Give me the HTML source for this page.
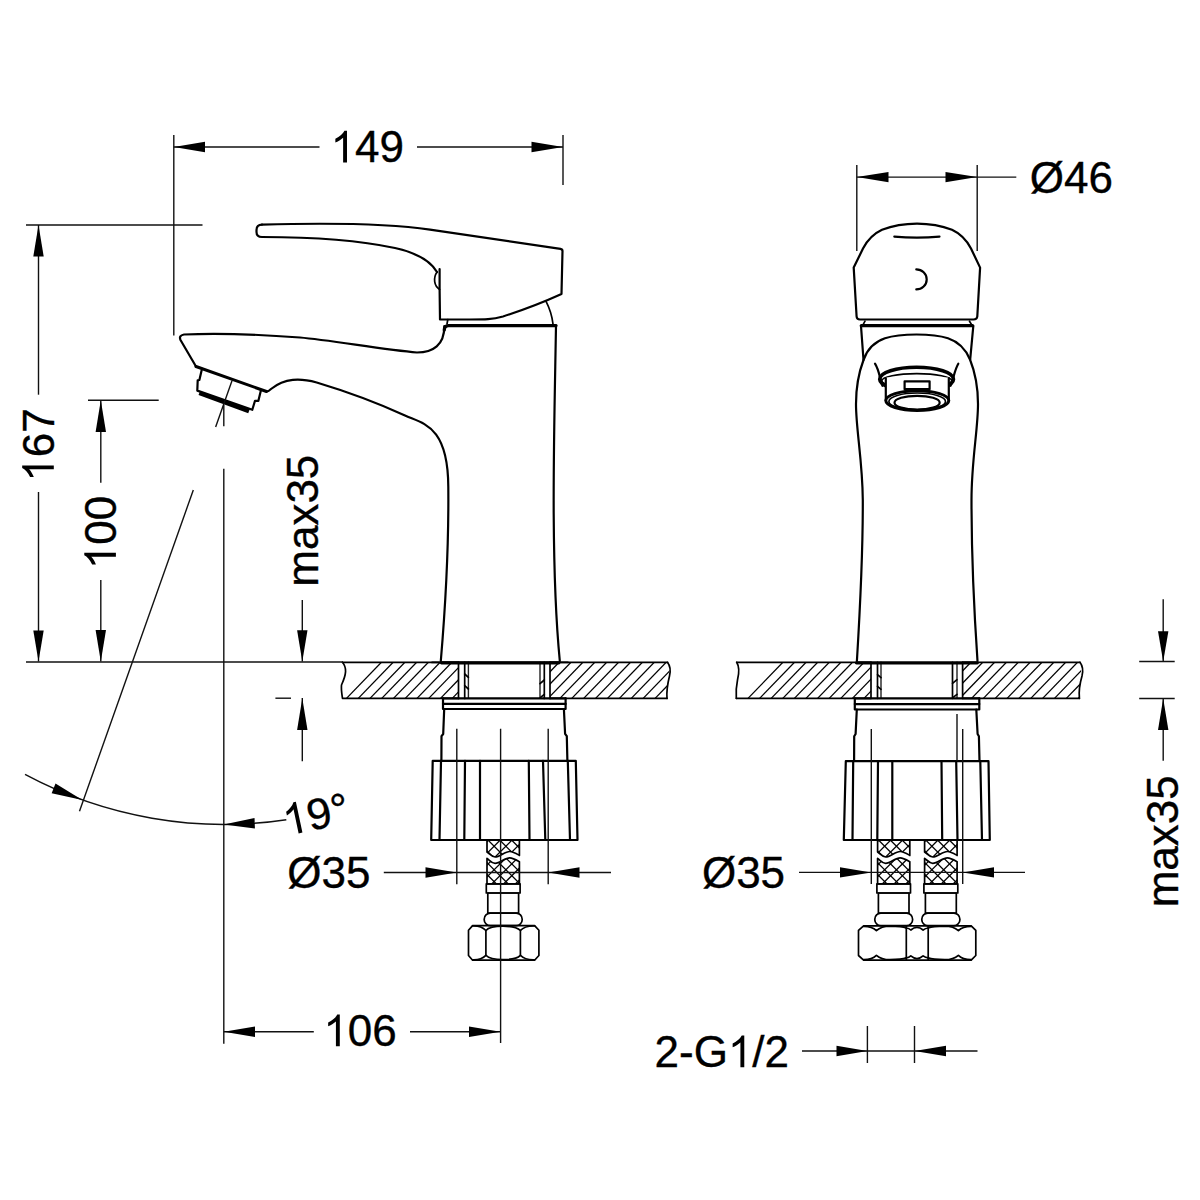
<!DOCTYPE html>
<html><head><meta charset="utf-8"><style>html,body{margin:0;padding:0;background:#fff;width:1200px;height:1200px;overflow:hidden}
svg{display:block}
.d{stroke:#111;stroke-width:1.4;fill:none}
.o{stroke:#000;stroke-width:2.2;fill:none;stroke-linejoin:round;stroke-linecap:round}
.o.thin{stroke-width:1.7}
.o.th2{stroke-width:1.4;stroke:#222}
.o.b{stroke-width:2.6}
.o.sb{stroke-width:3}
.o.bar{stroke-width:4.4;stroke-linecap:butt}
.t{stroke:#000;stroke-width:3.3;fill:none;stroke-linecap:round}
.h{stroke:#000;stroke-width:1.3}
.x{stroke:#000;stroke-width:1.3}
.a{fill:#000;stroke:none}
text{font-family:"Liberation Sans",sans-serif;fill:#000;stroke:#000;stroke-width:0.35;font-kerning:none}
</style></head>
<body><svg width="1200" height="1200" viewBox="0 0 1200 1200">
<rect width="1200" height="1200" fill="#fff"/>
<path class="o thin" d="M 342.5,662.3 C 347,668 346.5,674 341.5,685 C 341,690 342,695 342.5,698.4 L 458.5,698.4"/>
<line class="o thin" x1="342.5" y1="662.3" x2="458.5" y2="662.3"/>
<line class="o thin" x1="458.5" y1="662.3" x2="458.5" y2="698.4"/>
<clipPath id="c1"><path d="M 346,662.3 L 458.5,662.3 L 458.5,698.4 L 346,698.4 Z"/></clipPath>
<g clip-path="url(#c1)">
<line class="h" x1="346.50" y1="698.4" x2="381.37" y2="662.3"/>
<line class="h" x1="358.25" y1="698.4" x2="393.12" y2="662.3"/>
<line class="h" x1="370.00" y1="698.4" x2="404.87" y2="662.3"/>
<line class="h" x1="381.75" y1="698.4" x2="416.62" y2="662.3"/>
<line class="h" x1="393.50" y1="698.4" x2="428.37" y2="662.3"/>
<line class="h" x1="405.25" y1="698.4" x2="440.12" y2="662.3"/>
<line class="h" x1="417.00" y1="698.4" x2="451.87" y2="662.3"/>
<line class="h" x1="428.75" y1="698.4" x2="463.62" y2="662.3"/>
<line class="h" x1="440.50" y1="698.4" x2="475.37" y2="662.3"/>
<line class="h" x1="452.25" y1="698.4" x2="487.12" y2="662.3"/>
<line class="h" x1="464.00" y1="698.4" x2="498.87" y2="662.3"/>
</g>
<line class="o thin" x1="464.7" y1="662.3" x2="464.7" y2="698.4"/>
<line class="o th2" x1="468.4" y1="662.3" x2="468.4" y2="698.4"/>
<line class="o th2" x1="540" y1="662.3" x2="540" y2="698.4"/>
<line class="o thin" x1="544.3" y1="662.3" x2="544.3" y2="698.4"/>
<line class="o thin" x1="464.7" y1="674" x2="468.4" y2="677.3"/>
<line class="o thin" x1="464.7" y1="685.7" x2="468.4" y2="689"/>
<line class="o thin" x1="540" y1="683.7" x2="544.3" y2="680"/>
<line class="o thin" x1="540.3" y1="697.6" x2="544.3" y2="694.3"/>
<line class="o thin" x1="550" y1="662.3" x2="550" y2="698.4"/>
<line class="o thin" x1="550" y1="662.3" x2="667.5" y2="662.3"/>
<line class="o thin" x1="550" y1="698.4" x2="667" y2="698.4"/>
<path class="o thin" d="M 667.5,662.3 C 669.5,665 671,670 669.5,676 C 667.5,684 666.5,692 667,698.4"/>
<clipPath id="c2"><path d="M 550,662.3 L 669,662.3 C 671,670 667,684 667,698.4 L 550,698.4 Z"/></clipPath>
<g clip-path="url(#c2)">
<line class="h" x1="524.20" y1="698.4" x2="559.07" y2="662.3"/>
<line class="h" x1="536.10" y1="698.4" x2="570.97" y2="662.3"/>
<line class="h" x1="548.00" y1="698.4" x2="582.87" y2="662.3"/>
<line class="h" x1="559.90" y1="698.4" x2="594.77" y2="662.3"/>
<line class="h" x1="571.80" y1="698.4" x2="606.67" y2="662.3"/>
<line class="h" x1="583.70" y1="698.4" x2="618.57" y2="662.3"/>
<line class="h" x1="595.60" y1="698.4" x2="630.47" y2="662.3"/>
<line class="h" x1="607.50" y1="698.4" x2="642.37" y2="662.3"/>
<line class="h" x1="619.40" y1="698.4" x2="654.27" y2="662.3"/>
<line class="h" x1="631.30" y1="698.4" x2="666.17" y2="662.3"/>
<line class="h" x1="643.20" y1="698.4" x2="678.07" y2="662.3"/>
<line class="h" x1="655.10" y1="698.4" x2="689.97" y2="662.3"/>
<line class="h" x1="667.00" y1="698.4" x2="701.87" y2="662.3"/>
</g>
<path class="o thin" d="M 736.7,662.3 C 739,666 739.5,672 737.5,680 C 736,687 736,693 736.3,698.3"/>
<line class="o thin" x1="736.7" y1="662.3" x2="871" y2="662.3"/>
<line class="o thin" x1="736.3" y1="698.3" x2="871" y2="698.3"/>
<line class="o thin" x1="871" y1="662.3" x2="871" y2="698.3"/>
<clipPath id="c3"><path d="M 741,662.3 L 871,662.3 L 871,698.3 L 741,698.3 Z"/></clipPath>
<g clip-path="url(#c3)">
<line class="h" x1="748.00" y1="698.4" x2="782.87" y2="662.3"/>
<line class="h" x1="759.60" y1="698.4" x2="794.47" y2="662.3"/>
<line class="h" x1="771.20" y1="698.4" x2="806.07" y2="662.3"/>
<line class="h" x1="782.80" y1="698.4" x2="817.67" y2="662.3"/>
<line class="h" x1="794.40" y1="698.4" x2="829.27" y2="662.3"/>
<line class="h" x1="806.00" y1="698.4" x2="840.87" y2="662.3"/>
<line class="h" x1="817.60" y1="698.4" x2="852.47" y2="662.3"/>
<line class="h" x1="829.20" y1="698.4" x2="864.07" y2="662.3"/>
<line class="h" x1="840.80" y1="698.4" x2="875.67" y2="662.3"/>
<line class="h" x1="852.40" y1="698.4" x2="887.27" y2="662.3"/>
<line class="h" x1="864.00" y1="698.4" x2="898.87" y2="662.3"/>
<line class="h" x1="875.60" y1="698.4" x2="910.47" y2="662.3"/>
</g>
<line class="o thin" x1="877.5" y1="662.3" x2="877.5" y2="698.3"/>
<line class="o th2" x1="881" y1="662.3" x2="881" y2="698.3"/>
<line class="o thin" x1="952.5" y1="662.3" x2="952.5" y2="698.3"/>
<line class="o th2" x1="957" y1="662.3" x2="957" y2="698.3"/>
<line class="o thin" x1="877.5" y1="674.7" x2="881" y2="677.6"/>
<line class="o thin" x1="877.5" y1="686.3" x2="881" y2="689.3"/>
<line class="o thin" x1="952.5" y1="683.3" x2="957" y2="679.7"/>
<line class="o thin" x1="952.8" y1="697.6" x2="957" y2="694.3"/>
<line class="o thin" x1="962.6" y1="662.3" x2="962.6" y2="698.3"/>
<line class="o thin" x1="962.6" y1="662.3" x2="1080" y2="662.3"/>
<line class="o thin" x1="962.6" y1="698.3" x2="1079.4" y2="698.3"/>
<path class="o thin" d="M 1080,662.3 C 1082,665 1083.5,670 1082,676 C 1080,683 1078.5,690 1079.4,698.3"/>
<clipPath id="c4"><path d="M 962.6,662.3 L 1080,662.3 C 1083,670 1079,684 1079.4,698.3 L 962.6,698.3 Z"/></clipPath>
<g clip-path="url(#c4)">
<line class="h" x1="936.00" y1="698.4" x2="970.87" y2="662.3"/>
<line class="h" x1="947.85" y1="698.4" x2="982.72" y2="662.3"/>
<line class="h" x1="959.70" y1="698.4" x2="994.57" y2="662.3"/>
<line class="h" x1="971.55" y1="698.4" x2="1006.42" y2="662.3"/>
<line class="h" x1="983.40" y1="698.4" x2="1018.27" y2="662.3"/>
<line class="h" x1="995.25" y1="698.4" x2="1030.12" y2="662.3"/>
<line class="h" x1="1007.10" y1="698.4" x2="1041.97" y2="662.3"/>
<line class="h" x1="1018.95" y1="698.4" x2="1053.82" y2="662.3"/>
<line class="h" x1="1030.80" y1="698.4" x2="1065.67" y2="662.3"/>
<line class="h" x1="1042.65" y1="698.4" x2="1077.52" y2="662.3"/>
<line class="h" x1="1054.50" y1="698.4" x2="1089.37" y2="662.3"/>
<line class="h" x1="1066.35" y1="698.4" x2="1101.22" y2="662.3"/>
<line class="h" x1="1078.20" y1="698.4" x2="1113.07" y2="662.3"/>
</g>
<path class="t" d="M 856.5,662.8 L 977.3,662.8"/>
<path class="o" d="M 262,224.6 C 310,223.3 380,222.25 430,229.6 L 560.5,248.8 Q 562.5,249.2 562.5,251 L 561.5,294 C 545,301.5 520,311 503,316.5 C 492,319.5 485,319.5 470,319.5 L 440,319.5 L 439.6,289 L 439.6,269 "/>
<path class="o" d="M 437,272 C 430,260 415,252.5 395,248 C 360,240.5 310,237 262,237 Q 256.5,237 256.5,232 L 256.5,230 Q 256.5,224.6 262,224.6"/>
<path class="o thin" d="M 437,272 C 433,278 434,286 439.6,289.5"/>
<path class="o thin" d="M 447.8,319.5 L 447,324"/>
<path class="o thin" d="M 545.8,300.8 C 549,307 552,315 553,324"/>
<path class="t" d="M 444.3,330 Q 444.3,325.6 448.5,325.6 L 556,325.6"/>
<path class="o" d="M 556,325.6 C 554.5,420 550,560 559.8,661"/>
<path class="o" d="M 444.3,326 C 444.5,345 433,352.5 417,352.5 C 385,350 330,340 300,337.5 C 260,334.5 215,333 184,334.5 Q 178.5,335.5 180.5,340 L 196,366.5"/>
<path class="o sb" d="M 196,366.5 L 266.5,391.5"/>
<path class="o" d="M 266.5,391.5 Q 268.5,391.5 271,389 C 285,378 300,378 316.7,382.5 C 345,391 380,404 405,415.5 C 422.5,423.55 448,425 448.3,486.7 C 448.8,540 446,600 440.8,661"/>
<path class="o" d="M 201.7,370 L 199.4,380 L 197.7,380.3 L 197.3,390.6 L 252.3,409.8 L 255,400.8 L 258.4,400.8 L 261,390"/>
<path class="o bar" d="M 199.3,393 L 249,411.3"/>
<path class="o thin" d="M 432,662.4 L 568,662.4"/>
<path class="t" d="M 441.5,662.8 L 558.8,662.8"/>
<path class="o" d="M 443,698.4 L 443,709 L 565.6,709 L 565.6,698.4"/>
<line class="o" x1="443" y1="698.4" x2="565.6" y2="698.4"/>
<line class="o" x1="443" y1="703.9" x2="565.6" y2="703.9"/>
<path class="o" d="M 444.2,709 L 443.2,734 L 441.5,736.2 L 441.4,761"/>
<path class="o" d="M 563.9,709 L 565.1,733.8 L 566.8,736.2 L 567.4,761"/>
<path class="o" d="M 432.7,760.9 L 575.8,760.9 L 577.5,840 L 431.2,840 Z"/>
<line class="o" x1="441" y1="760.9" x2="439.5" y2="840"/>
<line class="o" x1="465" y1="760.9" x2="464.3" y2="840"/>
<line class="o" x1="480" y1="760.9" x2="480" y2="840"/>
<line class="o" x1="528.8" y1="760.9" x2="529.5" y2="840"/>
<line class="o" x1="543" y1="760.9" x2="545.3" y2="840"/>
<line class="o" x1="567.8" y1="760.9" x2="570" y2="840"/>
<clipPath id="hb487u"><path d="M 487,840 L 519.4,840 L 519.40,855.40 C 516.16,853.50 512.92,851.50 509.68,851.50 C 504.82,851.50 499.96,857.00 495.10,857.00 C 491.86,857.00 490.24,854.50 487.00,852.00 Z"/></clipPath>
<g clip-path="url(#hb487u)">
<line class="x" x1="435.70" y1="835" x2="490.70" y2="890"/>
<line class="x" x1="493.50" y1="835" x2="438.50" y2="890"/>
<line class="x" x1="447.50" y1="835" x2="502.50" y2="890"/>
<line class="x" x1="505.30" y1="835" x2="450.30" y2="890"/>
<line class="x" x1="459.30" y1="835" x2="514.30" y2="890"/>
<line class="x" x1="517.10" y1="835" x2="462.10" y2="890"/>
<line class="x" x1="471.10" y1="835" x2="526.10" y2="890"/>
<line class="x" x1="528.90" y1="835" x2="473.90" y2="890"/>
<line class="x" x1="482.90" y1="835" x2="537.90" y2="890"/>
<line class="x" x1="540.70" y1="835" x2="485.70" y2="890"/>
<line class="x" x1="494.70" y1="835" x2="549.70" y2="890"/>
<line class="x" x1="552.50" y1="835" x2="497.50" y2="890"/>
<line class="x" x1="506.50" y1="835" x2="561.50" y2="890"/>
<line class="x" x1="564.30" y1="835" x2="509.30" y2="890"/>
<line class="x" x1="518.30" y1="835" x2="573.30" y2="890"/>
<line class="x" x1="576.10" y1="835" x2="521.10" y2="890"/>
</g>
<path class="o thin" d="M 487,840 L 519.4,840 L 519.40,855.40 C 516.16,853.50 512.92,851.50 509.68,851.50 C 504.82,851.50 499.96,857.00 495.10,857.00 C 491.86,857.00 490.24,854.50 487.00,852.00 Z"/>
<clipPath id="hb487l"><path d="M 487.00,858.30 C 490.24,860.80 491.86,863.30 495.10,863.30 C 499.96,863.30 504.82,857.80 509.68,857.80 C 512.92,857.80 516.16,859.80 519.40,861.70 L 519.4,883.8 L 487,883.8 Z"/></clipPath>
<g clip-path="url(#hb487l)">
<line class="x" x1="435.70" y1="835" x2="490.70" y2="890"/>
<line class="x" x1="493.50" y1="835" x2="438.50" y2="890"/>
<line class="x" x1="447.50" y1="835" x2="502.50" y2="890"/>
<line class="x" x1="505.30" y1="835" x2="450.30" y2="890"/>
<line class="x" x1="459.30" y1="835" x2="514.30" y2="890"/>
<line class="x" x1="517.10" y1="835" x2="462.10" y2="890"/>
<line class="x" x1="471.10" y1="835" x2="526.10" y2="890"/>
<line class="x" x1="528.90" y1="835" x2="473.90" y2="890"/>
<line class="x" x1="482.90" y1="835" x2="537.90" y2="890"/>
<line class="x" x1="540.70" y1="835" x2="485.70" y2="890"/>
<line class="x" x1="494.70" y1="835" x2="549.70" y2="890"/>
<line class="x" x1="552.50" y1="835" x2="497.50" y2="890"/>
<line class="x" x1="506.50" y1="835" x2="561.50" y2="890"/>
<line class="x" x1="564.30" y1="835" x2="509.30" y2="890"/>
<line class="x" x1="518.30" y1="835" x2="573.30" y2="890"/>
<line class="x" x1="576.10" y1="835" x2="521.10" y2="890"/>
</g>
<path class="o thin" d="M 487.00,858.30 C 490.24,860.80 491.86,863.30 495.10,863.30 C 499.96,863.30 504.82,857.80 509.68,857.80 C 512.92,857.80 516.16,859.80 519.40,861.70 L 519.4,883.8 L 487,883.8 Z"/>
<rect class="o thin" x="486.30" y="883.8" width="33.80" height="9.2"/>
<rect class="o thin" x="487.80" y="893" width="30.80" height="20.2"/>
<rect class="o thin" x="484.20" y="913.2" width="38.00" height="12.5" rx="6" ry="6"/>
<path class="o thin" d="M 472.6,925.6 L 534.6,925.6 L 538.9,930.3 L 538.9,955.5 L 534.6,960.2 L 472.6,960.2 L 468.5,955.5 L 468.5,930.3 Z"/>
<line class="o thin" x1="485.9" y1="930.5" x2="485.9" y2="955.3"/>
<line class="o thin" x1="520.4" y1="930.5" x2="520.4" y2="955.3"/>
<path class="o thin" d="M 472.6,926.0 C 477,925.8 482,926.5 485.9,930.5 C 489,927.0 494,926.2 503,926.2 C 512,926.2 517,927.0 520.4,930.5 C 524,926.5 529,925.8 534.6,926.0"/>
<path class="o thin" d="M 472.6,959.8 C 477,960.0 482,959.3 485.9,955.3 C 489,958.8 494,959.6 503,959.6 C 512,959.6 517,958.8 520.4,955.3 C 524,959.3 529,960.0 534.6,959.8"/>
<path class="o" d="M 856.6,316.5 L 853.7,267.6 L 863,248.5 C 868,239 874,233.5 882,229.8 C 893,225.6 905,223.7 917,223.7 C 929,223.7 941,225.6 952,229.8 C 960,233.5 966,239 971,248.5 L 980.1,267.6 L 977.3,316.5 Q 977,319.5 973.5,319.5 L 860,319.5 Q 856.8,319.5 856.6,316.5 Z"/>
<path class="o" d="M 894.3,236.6 Q 917,238.8 939.5,236.6"/>
<path class="o" d="M 916.3,269.4 A 10.4 10 0 0 1 916.3,289.4"/>
<path class="o thin" d="M 865,321.2 L 863.1,324.6"/>
<path class="o thin" d="M 969.5,321.2 L 971.6,324.6"/>
<path class="t" d="M 861.3,325.7 L 972.6,325.7"/>
<path class="o" d="M 861,326 L 863.5,360"/>
<path class="o" d="M 973.3,326 L 970.2,359.5"/>
<path class="o" d="M 856.9,661 C 860,610 863,560 862.8,500 C 862.5,460 856,430 856,404 C 856,385 859,372 863.5,360 C 867,350 874,342 885,338.3 C 895,335 905,334.5 916.5,334.5 C 928,334.5 938,335 948,338.3 C 959,342 966,350 970,359.5 C 975,372 978,385 978,404 C 978,430 971.5,460 971.5,500 C 971.5,560 974,610 977.5,661"/>
<path class="o" d="M 875,363.7 C 879,370 879.8,378 882.5,385.8"/>
<path class="o" d="M 958.3,363.7 C 954.5,370 953.8,378 950.5,385.8"/>
<ellipse class="o" style="stroke-width:3.6" cx="916.6" cy="379.2" rx="36.9" ry="11.9"/>
<ellipse class="o thin" cx="916.8" cy="380.8" rx="35" ry="7.2"/>
<path d="M 885.8,377.6 L 885.8,400.4 A 31.5 9.8 0 0 0 948.8,400.4 L 948.8,377.6 Z" fill="#fff"/>
<line class="o" x1="885.8" y1="378" x2="885.8" y2="400.4"/>
<line class="o" x1="948.8" y1="378" x2="948.8" y2="400.4"/>
<rect class="o" x="904.6" y="381.3" width="25" height="7.9"/>
<ellipse class="o" style="stroke-width:3" cx="917.3" cy="400.6" rx="31.5" ry="9.8" fill="#fff"/>
<ellipse class="o thin" cx="917.2" cy="401.4" rx="28.3" ry="8.4"/>
<ellipse class="o" cx="917.1" cy="402.7" rx="22.6" ry="6.9" fill="#fff"/>
<path class="o" d="M 854.8,698.3 L 854.8,709.5 L 979.3,709.5 L 979.3,698.3"/>
<line class="o" x1="854.8" y1="698.3" x2="979.3" y2="698.3"/>
<line class="o" x1="854.8" y1="704.1" x2="979.3" y2="704.1"/>
<path class="o" d="M 856.8,709.5 L 855.6,734 L 854.2,736.3 L 854.1,761"/>
<path class="o" d="M 976.3,709.5 L 977.6,734 L 978.9,736.3 L 979.5,761"/>
<path class="o" d="M 845.8,761.2 L 988.5,761.2 L 989.8,840 L 843.8,840 Z"/>
<line class="o" x1="853.2" y1="761.2" x2="852.5" y2="840"/>
<line class="o" x1="878" y1="761.2" x2="877.3" y2="840"/>
<line class="o" x1="892.3" y1="761.2" x2="892.3" y2="840"/>
<line class="o" x1="941.5" y1="761.2" x2="942.2" y2="840"/>
<line class="o" x1="956.2" y1="761.2" x2="957.5" y2="840"/>
<line class="o" x1="980.3" y1="761.2" x2="982" y2="840"/>
<line class="d" x1="957" y1="714" x2="957" y2="761"/>
<clipPath id="hb877u"><path d="M 877.6,840 L 909.8,840 L 909.80,855.40 C 906.58,853.50 903.36,851.50 900.14,851.50 C 895.31,851.50 890.48,857.00 885.65,857.00 C 882.43,857.00 880.82,854.50 877.60,852.00 Z"/></clipPath>
<g clip-path="url(#hb877u)">
<line class="x" x1="826.25" y1="835" x2="881.25" y2="890"/>
<line class="x" x1="884.05" y1="835" x2="829.05" y2="890"/>
<line class="x" x1="838.05" y1="835" x2="893.05" y2="890"/>
<line class="x" x1="895.85" y1="835" x2="840.85" y2="890"/>
<line class="x" x1="849.85" y1="835" x2="904.85" y2="890"/>
<line class="x" x1="907.65" y1="835" x2="852.65" y2="890"/>
<line class="x" x1="861.65" y1="835" x2="916.65" y2="890"/>
<line class="x" x1="919.45" y1="835" x2="864.45" y2="890"/>
<line class="x" x1="873.45" y1="835" x2="928.45" y2="890"/>
<line class="x" x1="931.25" y1="835" x2="876.25" y2="890"/>
<line class="x" x1="885.25" y1="835" x2="940.25" y2="890"/>
<line class="x" x1="943.05" y1="835" x2="888.05" y2="890"/>
<line class="x" x1="897.05" y1="835" x2="952.05" y2="890"/>
<line class="x" x1="954.85" y1="835" x2="899.85" y2="890"/>
<line class="x" x1="908.85" y1="835" x2="963.85" y2="890"/>
<line class="x" x1="966.65" y1="835" x2="911.65" y2="890"/>
</g>
<path class="o thin" d="M 877.6,840 L 909.8,840 L 909.80,855.40 C 906.58,853.50 903.36,851.50 900.14,851.50 C 895.31,851.50 890.48,857.00 885.65,857.00 C 882.43,857.00 880.82,854.50 877.60,852.00 Z"/>
<clipPath id="hb877l"><path d="M 877.60,858.30 C 880.82,860.80 882.43,863.30 885.65,863.30 C 890.48,863.30 895.31,857.80 900.14,857.80 C 903.36,857.80 906.58,859.80 909.80,861.70 L 909.8,883.8 L 877.6,883.8 Z"/></clipPath>
<g clip-path="url(#hb877l)">
<line class="x" x1="826.25" y1="835" x2="881.25" y2="890"/>
<line class="x" x1="884.05" y1="835" x2="829.05" y2="890"/>
<line class="x" x1="838.05" y1="835" x2="893.05" y2="890"/>
<line class="x" x1="895.85" y1="835" x2="840.85" y2="890"/>
<line class="x" x1="849.85" y1="835" x2="904.85" y2="890"/>
<line class="x" x1="907.65" y1="835" x2="852.65" y2="890"/>
<line class="x" x1="861.65" y1="835" x2="916.65" y2="890"/>
<line class="x" x1="919.45" y1="835" x2="864.45" y2="890"/>
<line class="x" x1="873.45" y1="835" x2="928.45" y2="890"/>
<line class="x" x1="931.25" y1="835" x2="876.25" y2="890"/>
<line class="x" x1="885.25" y1="835" x2="940.25" y2="890"/>
<line class="x" x1="943.05" y1="835" x2="888.05" y2="890"/>
<line class="x" x1="897.05" y1="835" x2="952.05" y2="890"/>
<line class="x" x1="954.85" y1="835" x2="899.85" y2="890"/>
<line class="x" x1="908.85" y1="835" x2="963.85" y2="890"/>
<line class="x" x1="966.65" y1="835" x2="911.65" y2="890"/>
</g>
<path class="o thin" d="M 877.60,858.30 C 880.82,860.80 882.43,863.30 885.65,863.30 C 890.48,863.30 895.31,857.80 900.14,857.80 C 903.36,857.80 906.58,859.80 909.80,861.70 L 909.8,883.8 L 877.6,883.8 Z"/>
<rect class="o thin" x="876.90" y="883.8" width="33.60" height="9.2"/>
<rect class="o thin" x="878.40" y="893" width="30.60" height="20.2"/>
<rect class="o thin" x="874.80" y="913.2" width="37.80" height="12.5" rx="6" ry="6"/>
<clipPath id="hb924u"><path d="M 924.6,840 L 957.1,840 L 957.10,855.40 C 953.85,853.50 950.60,851.50 947.35,851.50 C 942.48,851.50 937.60,857.00 932.73,857.00 C 929.48,857.00 927.85,854.50 924.60,852.00 Z"/></clipPath>
<g clip-path="url(#hb924u)">
<line class="x" x1="873.45" y1="835" x2="928.45" y2="890"/>
<line class="x" x1="931.25" y1="835" x2="876.25" y2="890"/>
<line class="x" x1="885.25" y1="835" x2="940.25" y2="890"/>
<line class="x" x1="943.05" y1="835" x2="888.05" y2="890"/>
<line class="x" x1="897.05" y1="835" x2="952.05" y2="890"/>
<line class="x" x1="954.85" y1="835" x2="899.85" y2="890"/>
<line class="x" x1="908.85" y1="835" x2="963.85" y2="890"/>
<line class="x" x1="966.65" y1="835" x2="911.65" y2="890"/>
<line class="x" x1="920.65" y1="835" x2="975.65" y2="890"/>
<line class="x" x1="978.45" y1="835" x2="923.45" y2="890"/>
<line class="x" x1="932.45" y1="835" x2="987.45" y2="890"/>
<line class="x" x1="990.25" y1="835" x2="935.25" y2="890"/>
<line class="x" x1="944.25" y1="835" x2="999.25" y2="890"/>
<line class="x" x1="1002.05" y1="835" x2="947.05" y2="890"/>
<line class="x" x1="956.05" y1="835" x2="1011.05" y2="890"/>
<line class="x" x1="1013.85" y1="835" x2="958.85" y2="890"/>
</g>
<path class="o thin" d="M 924.6,840 L 957.1,840 L 957.10,855.40 C 953.85,853.50 950.60,851.50 947.35,851.50 C 942.48,851.50 937.60,857.00 932.73,857.00 C 929.48,857.00 927.85,854.50 924.60,852.00 Z"/>
<clipPath id="hb924l"><path d="M 924.60,858.30 C 927.85,860.80 929.48,863.30 932.73,863.30 C 937.60,863.30 942.48,857.80 947.35,857.80 C 950.60,857.80 953.85,859.80 957.10,861.70 L 957.1,883.8 L 924.6,883.8 Z"/></clipPath>
<g clip-path="url(#hb924l)">
<line class="x" x1="873.45" y1="835" x2="928.45" y2="890"/>
<line class="x" x1="931.25" y1="835" x2="876.25" y2="890"/>
<line class="x" x1="885.25" y1="835" x2="940.25" y2="890"/>
<line class="x" x1="943.05" y1="835" x2="888.05" y2="890"/>
<line class="x" x1="897.05" y1="835" x2="952.05" y2="890"/>
<line class="x" x1="954.85" y1="835" x2="899.85" y2="890"/>
<line class="x" x1="908.85" y1="835" x2="963.85" y2="890"/>
<line class="x" x1="966.65" y1="835" x2="911.65" y2="890"/>
<line class="x" x1="920.65" y1="835" x2="975.65" y2="890"/>
<line class="x" x1="978.45" y1="835" x2="923.45" y2="890"/>
<line class="x" x1="932.45" y1="835" x2="987.45" y2="890"/>
<line class="x" x1="990.25" y1="835" x2="935.25" y2="890"/>
<line class="x" x1="944.25" y1="835" x2="999.25" y2="890"/>
<line class="x" x1="1002.05" y1="835" x2="947.05" y2="890"/>
<line class="x" x1="956.05" y1="835" x2="1011.05" y2="890"/>
<line class="x" x1="1013.85" y1="835" x2="958.85" y2="890"/>
</g>
<path class="o thin" d="M 924.60,858.30 C 927.85,860.80 929.48,863.30 932.73,863.30 C 937.60,863.30 942.48,857.80 947.35,857.80 C 950.60,857.80 953.85,859.80 957.10,861.70 L 957.1,883.8 L 924.6,883.8 Z"/>
<rect class="o thin" x="923.90" y="883.8" width="33.90" height="9.2"/>
<rect class="o thin" x="925.40" y="893" width="30.90" height="20.2"/>
<rect class="o thin" x="921.80" y="913.2" width="38.10" height="12.5" rx="6" ry="6"/>
<path class="o thin" d="M 863.6,925.8 L 971.2,925.8 L 975.8,930.4 L 975.8,955.5 L 971.2,960.1 L 863.6,960.1 L 858.5,955.5 L 858.5,930.4 Z"/>
<line class="o thin" x1="906.3" y1="926" x2="906.3" y2="960"/>
<line class="o thin" x1="928.2" y1="926" x2="928.2" y2="960"/>
<path class="o thin" d="M 863.6,926.3 Q 872,926.2 876.4,930.6 C 880,927.5 884,926.3 890,926.2 C 898,926.3 903,926.8 906.3,928"/>
<path class="o thin" d="M 971.2,926.3 Q 962.8,926.2 958.4,930.6 C 954.8,927.5 950.8,926.3 944.8,926.2 C 936.8,926.3 931.5,926.8 928.2,928"/>
<path class="o thin" d="M 906.3,928 Q 909,928.3 910.8,930 Q 917,924.6 923.1,930 Q 925.5,928.3 928.2,928"/>
<path class="o thin" d="M 863.6,959.6 Q 872,959.7 876.4,955.3 C 880,958.4 884,959.6 890,959.7 C 898,959.6 903,959.1 906.3,957.9"/>
<path class="o thin" d="M 971.2,959.6 Q 962.8,959.7 958.4,955.3 C 954.8,958.4 950.8,959.6 944.8,959.7 C 936.8,959.6 931.5,959.1 928.2,957.9"/>
<path class="o thin" d="M 906.3,957.9 Q 909,957.6 910.8,955.9 Q 917,961.3 923.1,955.9 Q 925.5,957.6 928.2,957.9"/>
<line class="d" x1="173.8" y1="135" x2="173.8" y2="335.6"/>
<line class="d" x1="563" y1="135" x2="563" y2="185"/>
<line class="d" x1="173.8" y1="147" x2="319.5" y2="147"/>
<line class="d" x1="417" y1="147" x2="563" y2="147"/>
<polygon class="a" points="173.80,147.00 205.00,141.80 205.00,152.20"/>
<polygon class="a" points="563.00,147.00 531.50,152.20 531.50,141.80"/>
<g transform="translate(367.3,162.4)"><path class="a" d="M -20.31,0.00 L -24.18,0.00 L -24.18,-24.64 Q -25.58,-23.31 -27.85,-21.98 Q -30.13,-20.65 -31.94,-19.98 L -31.94,-23.72 Q -28.69,-25.24 -26.26,-27.41 Q -23.84,-29.58 -22.83,-31.62 L -20.31,-31.62 Z"/><text x="-12.24" y="0" font-size="44">4</text><text x="12.24" y="0" font-size="44">9</text></g>
<line class="d" x1="26" y1="225.0" x2="202.5" y2="225.0"/>
<line class="d" x1="38.5" y1="225" x2="38.5" y2="394.7"/>
<line class="d" x1="38.5" y1="492" x2="38.5" y2="661.5"/>
<polygon class="a" points="38.50,225.00 43.70,256.50 33.30,256.50"/>
<polygon class="a" points="38.50,661.50 33.30,630.50 43.70,630.50"/>
<g transform="translate(53.8,445.1) rotate(-90)"><path class="a" d="M -20.31,0.00 L -24.18,0.00 L -24.18,-24.64 Q -25.58,-23.31 -27.85,-21.98 Q -30.13,-20.65 -31.94,-19.98 L -31.94,-23.72 Q -28.69,-25.24 -26.26,-27.41 Q -23.84,-29.58 -22.83,-31.62 L -20.31,-31.62 Z"/><text x="-12.24" y="0" font-size="44">6</text><text x="12.24" y="0" font-size="44">7</text></g>
<line class="d" x1="88" y1="400.3" x2="158.7" y2="400.3"/>
<line class="d" x1="100.8" y1="400.3" x2="100.8" y2="482.7"/>
<line class="d" x1="100.8" y1="580" x2="100.8" y2="661.5"/>
<polygon class="a" points="100.80,400.30 106.00,432.00 95.60,432.00"/>
<polygon class="a" points="100.80,661.50 95.60,630.00 106.00,630.00"/>
<g transform="translate(115.9,532.5) rotate(-90)"><path class="a" d="M -20.31,0.00 L -24.18,0.00 L -24.18,-24.64 Q -25.58,-23.31 -27.85,-21.98 Q -30.13,-20.65 -31.94,-19.98 L -31.94,-23.72 Q -28.69,-25.24 -26.26,-27.41 Q -23.84,-29.58 -22.83,-31.62 L -20.31,-31.62 Z"/><text x="-12.24" y="0" font-size="44">0</text><text x="12.24" y="0" font-size="44">0</text></g>
<line class="d" x1="26" y1="662" x2="343" y2="662"/>
<line class="d" x1="302.3" y1="600" x2="302.3" y2="661.5"/>
<line class="d" x1="302.3" y1="698" x2="302.3" y2="761.3"/>
<polygon class="a" points="302.30,661.50 297.10,630.20 307.50,630.20"/>
<polygon class="a" points="302.30,698.20 307.50,730.00 297.10,730.00"/>
<line class="d" x1="275.4" y1="698.2" x2="291" y2="698.2"/>
<g transform="translate(317.6,520.7) rotate(-90)"><text x="-66.03" y="0" font-size="44">m</text><text x="-29.38" y="0" font-size="44">a</text><text x="-4.91" y="0" font-size="44">x</text><text x="17.09" y="0" font-size="44">3</text><text x="41.56" y="0" font-size="44">5</text></g>
<line class="d" x1="223.8" y1="405" x2="223.8" y2="426.3"/>
<line class="d" x1="223.8" y1="468.8" x2="223.8" y2="1043.8"/>
<line class="d" x1="232.08" y1="380.6" x2="215.64" y2="427"/>
<line class="d" x1="193.32" y1="490" x2="79.48" y2="811.3"/>
<path class="d" d="M 25.03,774.45 A 420.3 420.3 0 0 0 286.33,819.71"/>
<polygon class="a" points="82.36,799.90 51.65,793.24 55.50,783.58"/>
<polygon class="a" points="223.75,824.40 254.53,818.06 254.91,828.45"/>
<g transform="translate(286.4,836.0) rotate(-12)"><path class="a" d="M 16.39,0.00 L 12.53,0.00 L 12.53,-24.64 Q 11.13,-23.31 8.85,-21.98 Q 6.57,-20.65 4.77,-19.98 L 4.77,-23.72 Q 8.01,-25.24 10.44,-27.41 Q 12.87,-29.58 13.88,-31.62 L 16.39,-31.62 Z"/><text x="24.47" y="0" font-size="44">9</text><text x="48.94" y="0" font-size="44">°</text></g>
<line class="d" x1="223.8" y1="1031.8" x2="313.8" y2="1031.8"/>
<line class="d" x1="410" y1="1031.8" x2="500.5" y2="1031.8"/>
<polygon class="a" points="223.80,1031.80 255.00,1026.60 255.00,1037.00"/>
<polygon class="a" points="500.50,1031.80 469.00,1037.00 469.00,1026.60"/>
<g transform="translate(360.1,1046.2)"><path class="a" d="M -20.31,0.00 L -24.18,0.00 L -24.18,-24.64 Q -25.58,-23.31 -27.85,-21.98 Q -30.13,-20.65 -31.94,-19.98 L -31.94,-23.72 Q -28.69,-25.24 -26.26,-27.41 Q -23.84,-29.58 -22.83,-31.62 L -20.31,-31.62 Z"/><text x="-12.24" y="0" font-size="44">0</text><text x="12.24" y="0" font-size="44">6</text></g>
<line class="d" x1="500.6" y1="728.8" x2="500.6" y2="1043"/>
<line class="d" x1="456.8" y1="728.8" x2="456.8" y2="884.3"/>
<line class="d" x1="548.2" y1="728.8" x2="548.2" y2="884.3"/>
<line class="d" x1="383.8" y1="872.5" x2="611" y2="872.5"/>
<polygon class="a" points="456.80,872.50 425.50,877.70 425.50,867.30"/>
<polygon class="a" points="548.20,872.50 579.50,867.30 579.50,877.70"/>
<g transform="translate(328.8,888.2)"><text x="-41.58" y="0" font-size="44">Ø</text><text x="-7.36" y="0" font-size="44">3</text><text x="17.11" y="0" font-size="44">5</text></g>
<line class="d" x1="856.8" y1="165" x2="856.8" y2="251"/>
<line class="d" x1="977.2" y1="165" x2="977.2" y2="251"/>
<line class="d" x1="856.8" y1="177.1" x2="1016.3" y2="177.1"/>
<polygon class="a" points="856.80,177.10 888.50,171.90 888.50,182.30"/>
<polygon class="a" points="977.20,177.10 945.50,182.30 945.50,171.90"/>
<g transform="translate(1071.3,193.0)"><text x="-41.58" y="0" font-size="44">Ø</text><text x="-7.36" y="0" font-size="44">4</text><text x="17.11" y="0" font-size="44">6</text></g>
<line class="d" x1="871.3" y1="729" x2="871.3" y2="884"/>
<line class="d" x1="962.7" y1="729" x2="962.7" y2="884"/>
<line class="d" x1="799" y1="872.4" x2="1025" y2="872.4"/>
<polygon class="a" points="871.30,872.40 840.00,877.60 840.00,867.20"/>
<polygon class="a" points="962.70,872.40 994.00,867.20 994.00,877.60"/>
<g transform="translate(743.5,888.2)"><text x="-41.58" y="0" font-size="44">Ø</text><text x="-7.36" y="0" font-size="44">3</text><text x="17.11" y="0" font-size="44">5</text></g>
<line class="d" x1="867.4" y1="1026" x2="867.4" y2="1063"/>
<line class="d" x1="914.5" y1="1026" x2="914.5" y2="1063"/>
<line class="d" x1="802" y1="1051" x2="977.5" y2="1051"/>
<polygon class="a" points="867.40,1051.00 836.50,1056.20 836.50,1045.80"/>
<polygon class="a" points="914.50,1051.00 946.00,1045.80 946.00,1056.20"/>
<g transform="translate(721.8,1067.2)"><text x="-67.26" y="0" font-size="44">2</text><text x="-42.79" y="0" font-size="44">-</text><text x="-28.13" y="0" font-size="44">G</text><path class="a" d="M 22.48,0.00 L 18.62,0.00 L 18.62,-24.64 Q 17.22,-23.31 14.94,-21.98 Q 12.67,-20.65 10.86,-19.98 L 10.86,-23.72 Q 14.10,-25.24 16.53,-27.41 Q 18.96,-29.58 19.97,-31.62 L 22.48,-31.62 Z"/><text x="30.56" y="0" font-size="44">/</text><text x="42.79" y="0" font-size="44">2</text></g>
<line class="d" x1="1163.2" y1="599.3" x2="1163.2" y2="661.5"/>
<line class="d" x1="1163.2" y1="698.5" x2="1163.2" y2="760.7"/>
<polygon class="a" points="1163.20,661.50 1158.00,631.30 1168.40,631.30"/>
<polygon class="a" points="1163.20,698.50 1168.40,730.00 1158.00,730.00"/>
<line class="d" x1="1139.2" y1="661.5" x2="1174.7" y2="661.5"/>
<line class="d" x1="1139.2" y1="698.5" x2="1174.7" y2="698.5"/>
<g transform="translate(1177.9,841.3) rotate(-90)"><text x="-66.03" y="0" font-size="44">m</text><text x="-29.38" y="0" font-size="44">a</text><text x="-4.91" y="0" font-size="44">x</text><text x="17.09" y="0" font-size="44">3</text><text x="41.56" y="0" font-size="44">5</text></g>
</svg></body></html>
